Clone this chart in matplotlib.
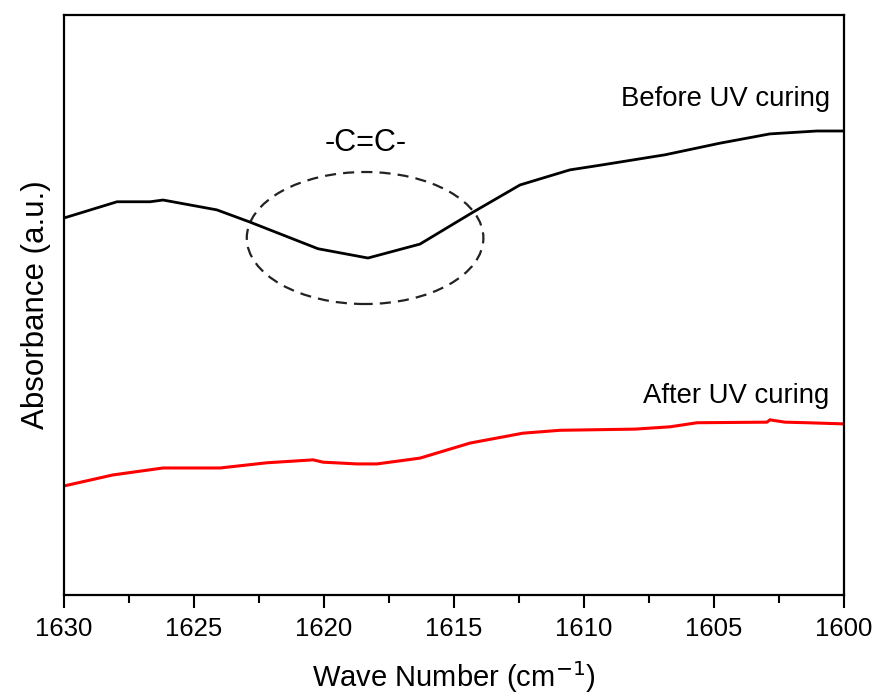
import matplotlib
matplotlib.use("Agg")
import matplotlib.pyplot as plt
from matplotlib.patches import Ellipse
from matplotlib.ticker import MultipleLocator

plt.rcParams['font.family'] = ['Liberation Sans', 'DejaVu Sans']

# wave numbers (cm-1) and absorbance (a.u.)
wn_before = [1630, 1627.96, 1626.69, 1626.19, 1624.12, 1622.85, 1620.23, 1618.31,
             1616.31, 1614.27, 1612.46, 1610.54, 1609.38, 1606.88, 1604.77,
             1602.85, 1601.04, 1600]
ab_before = [0.650, 0.678, 0.678, 0.681, 0.664, 0.643, 0.597, 0.581,
             0.605, 0.660, 0.707, 0.733, 0.741, 0.759, 0.779,
             0.795, 0.800, 0.800]

wn_after = [1630, 1628.12, 1626.19, 1624.0, 1622.19, 1620.42, 1620.04, 1618.73,
            1617.96, 1616.31, 1614.38, 1612.35, 1610.92, 1608.04, 1606.69,
            1605.65, 1602.96, 1602.85, 1602.27, 1601.42, 1600]
ab_after = [0.188, 0.207, 0.219, 0.219, 0.228, 0.233, 0.229, 0.226,
            0.226, 0.236, 0.262, 0.279, 0.284, 0.286, 0.290,
            0.297, 0.298, 0.302, 0.298, 0.297, 0.295]

fig = plt.figure(figsize=(8.81, 6.98), dpi=100)
ax = fig.add_axes([64/881, 1-595/698, 780/881, 580/698])

ax.plot(wn_before, ab_before, color='black', lw=2)
ax.plot(wn_after, ab_after, color='red', lw=2.2)

# dashed circle around the C=C dip
ax.add_patch(Ellipse((1618.42, 0.6155), 9.1, 0.2276, fill=False,
                     ls=(0, (5, 3.2)), lw=1.6, color='#222222'))

ax.text(1618.4, 0.78, '-C=C-', fontsize=22, ha='center', va='center')
ax.text(1600.55, 0.855, 'Before UV curing', fontsize=19.8, ha='right', va='center')
ax.text(1600.55, 0.343, 'After UV curing', fontsize=19.8, ha='right', va='center')

ax.set_xlim(1630, 1600)
ax.set_ylim(0, 1)
ax.xaxis.set_major_locator(MultipleLocator(5))
ax.xaxis.set_minor_locator(MultipleLocator(2.5))
ax.tick_params(axis='x', which='major', direction='out', length=9, width=1.5,
               labelsize=18.5, pad=7)
ax.tick_params(axis='x', which='minor', direction='out', length=6, width=1.5)
ax.set_yticks([])
for s in ax.spines.values():
    s.set_linewidth(1.6)

ax.set_xlabel('Wave Number (cm$^{-1}$)', fontsize=21, labelpad=13)
ax.set_ylabel('Absorbance (a.u.)', fontsize=22.5, labelpad=9)

fig.savefig('out.png', dpi=100)
